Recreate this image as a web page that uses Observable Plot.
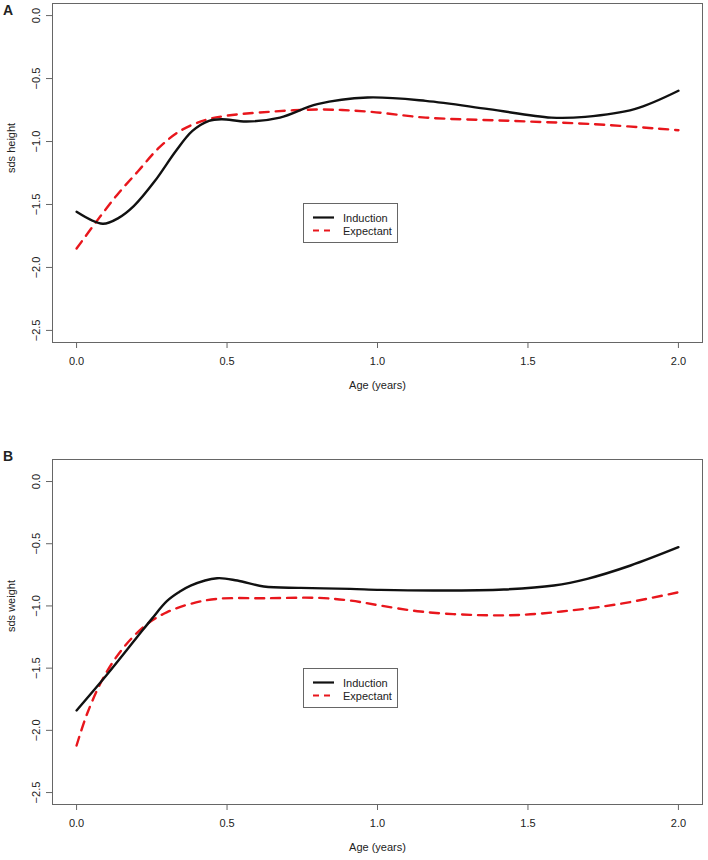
<!DOCTYPE html>
<html>
<head>
<meta charset="utf-8">
<script src="https://cdn.jsdelivr.net/npm/d3@7"></script>
<script src="https://cdn.jsdelivr.net/npm/@observablehq/plot@0.6"></script>
<style>
  html, body { margin: 0; padding: 0; background: #fff; }
  #wrap { position: relative; width: 708px; height: 860px; font-family: "Liberation Sans", Arial, sans-serif; color: #222; }
  .panel { position: absolute; left: 0; }
  .tag { position: absolute; font-weight: bold; font-size: 14px; line-height: 1; }
  .legend { position: absolute; border: 1px solid #666; background: #fff; box-sizing: border-box; font-size: 11px; }
  .legend .row { position: absolute; left: 0; display: flex; align-items: center; }
  .legend svg { display: block; }
</style>
</head>
<body>
<div id="wrap"></div>
<script>
// ---------- data ----------
const seriesNames = ["Induction", "Expectant"];
const xTicks = [0, 0.5, 1.0, 1.5, 2.0];
const yTicks = [0, -0.5, -1.0, -1.5, -2.0, -2.5];

// Panel A: sds height
const ageA_induction = [0, 0.087, 0.14, 0.19, 0.26, 0.33, 0.385, 0.44, 0.482, 0.565, 0.676, 0.80, 0.967, 1.16, 1.37, 1.577, 1.69, 1.854, 2.0];
const heightInduction = [-1.558, -1.653, -1.606, -1.513, -1.314, -1.075, -0.916, -0.836, -0.823, -0.841, -0.81, -0.703, -0.65, -0.677, -0.743, -0.81, -0.804, -0.743, -0.597];
const ageA_expectant = [0, 0.067, 0.136, 0.205, 0.274, 0.344, 0.427, 0.496, 0.607, 0.80, 0.967, 1.16, 1.44, 1.716, 2.0];
const heightExpectant = [-1.85, -1.632, -1.42, -1.234, -1.049, -0.916, -0.83, -0.796, -0.77, -0.746, -0.762, -0.81, -0.836, -0.862, -0.91];

// Panel B: sds weight
const ageB_induction = [0.0, 0.1, 0.2, 0.25, 0.3, 0.34, 0.379, 0.467, 0.534, 0.622, 0.744, 0.91, 1.01, 1.198, 1.42, 1.586, 1.697, 1.841, 2.0];
const weightInduction = [-1.84, -1.555, -1.254, -1.104, -0.962, -0.89, -0.836, -0.777, -0.796, -0.844, -0.855, -0.863, -0.871, -0.876, -0.868, -0.836, -0.782, -0.675, -0.528];
const ageB_expectant = [0, 0.035, 0.09, 0.157, 0.235, 0.301, 0.379, 0.467, 0.633, 0.80, 0.91, 1.01, 1.143, 1.309, 1.475, 1.641, 1.807, 2.0];
const weightExpectant = [-2.122, -1.867, -1.573, -1.332, -1.144, -1.05, -0.983, -0.943, -0.938, -0.935, -0.957, -0.997, -1.045, -1.072, -1.072, -1.037, -0.983, -0.89];

// ---------- helpers ----------
const FONT = '"Liberation Sans", Arial, sans-serif';
const RED = "#e8161c";
const fmt = d => (d < 0 ? "\u2212" : "") + Math.abs(d).toFixed(1);
const toRows = (xs, ys) => xs.map((x, i) => ({x, y: ys[i]}));

function panel({top, height, marginTop, marginBottom, yDomain, yLabel, ind, exp}) {
  const chart = Plot.plot({
    width: 708,
    height,
    marginLeft: 52,
    marginRight: 6,
    marginTop,
    marginBottom,
    style: {fontFamily: FONT, fontSize: "11px", color: "#222", background: "#fff"},
    x: {domain: [-0.08, 2.08]},
    y: {domain: yDomain},
    marks: [
      Plot.frame({stroke: "#666", strokeWidth: 1}),
      Plot.axisX({ticks: xTicks, tickFormat: fmt, tickSize: 6, tickPadding: 9, label: null, stroke: "#666", fill: "#222"}),
      Plot.axisY({ticks: yTicks, tickFormat: fmt, tickSize: 6, tickPadding: 7, tickRotate: -90, label: null, stroke: "#666", fill: "#222"}),
      Plot.text(["Age (years)"], {frameAnchor: "bottom", dy: 46, text: d => d, fill: "#222"}),
      Plot.text([yLabel], {frameAnchor: "left", dx: -41, rotate: -90, text: d => d, fill: "#222"}),
      Plot.line(exp, {x: "x", y: "y", stroke: RED, strokeWidth: 2.4, strokeDasharray: "9,7", curve: "catmull-rom"}),
      Plot.line(ind, {x: "x", y: "y", stroke: "#111", strokeWidth: 2.4, curve: "catmull-rom"})
    ]
  });
  const div = document.createElement("div");
  div.className = "panel";
  div.style.top = top + "px";
  div.appendChild(chart);
  return div;
}

function legend(left, top) {
  const box = document.createElement("div");
  box.className = "legend";
  Object.assign(box.style, {left: left + "px", top: top + "px", width: "95px", height: "40px"});
  const styles = [
    {stroke: "#111", dash: null},
    {stroke: RED, dash: "6,5"}
  ];
  seriesNames.forEach((name, i) => {
    const row = document.createElement("div");
    row.className = "row";
    row.style.top = (7 + i * 13) + "px";
    row.style.height = "13px";
    const s = d3.create("svg").attr("width", 39).attr("height", 13);
    s.append("line").attr("x1", 9).attr("x2", 30).attr("y1", 6.5).attr("y2", 6.5)
      .attr("stroke", styles[i].stroke).attr("stroke-width", 2.2)
      .attr("stroke-dasharray", styles[i].dash);
    row.appendChild(s.node());
    const t = document.createElement("span");
    t.textContent = name;
    row.appendChild(t);
    box.appendChild(row);
  });
  return box;
}

const wrap = document.getElementById("wrap");
wrap.appendChild(panel({
  top: 0, height: 400, marginTop: 3, marginBottom: 58,
  yDomain: [-2.596, 0.096], yLabel: "sds height",
  ind: toRows(ageA_induction, heightInduction),
  exp: toRows(ageA_expectant, heightExpectant)
}));
wrap.appendChild(panel({
  top: 430, height: 430, marginTop: 29, marginBottom: 56,
  yDomain: [-2.596, 0.177], yLabel: "sds weight",
  ind: toRows(ageB_induction, weightInduction),
  exp: toRows(ageB_expectant, weightExpectant)
}));
wrap.appendChild(legend(303, 203));
wrap.appendChild(legend(303, 668));

const tA = document.createElement("div");
tA.className = "tag"; tA.textContent = "A";
Object.assign(tA.style, {left: "3px", top: "3px"});
wrap.appendChild(tA);
const tB = document.createElement("div");
tB.className = "tag"; tB.textContent = "B";
Object.assign(tB.style, {left: "3px", top: "449px"});
wrap.appendChild(tB);
</script>
</body>
</html>
